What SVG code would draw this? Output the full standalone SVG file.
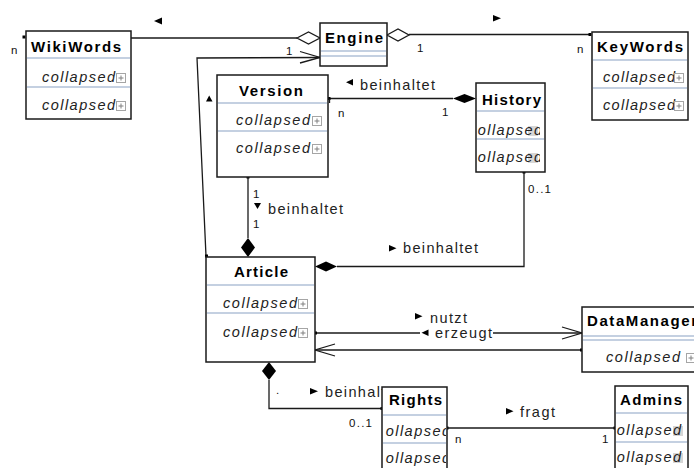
<svg xmlns="http://www.w3.org/2000/svg" xmlns:xlink="http://www.w3.org/1999/xlink" width="694" height="468" viewBox="0 0 694 468">
<style>
.box{fill:#fff;stroke:#1a1a1a;stroke-width:1.5}
.sep{stroke:#8aa2c4;stroke-width:1.2}
.title{font-family:"Liberation Sans",Arial,sans-serif;font-weight:bold;font-size:15px;fill:#000}
.attr{font-family:"Liberation Sans",Arial,sans-serif;font-style:italic;font-size:14.5px;fill:#222}
.lbl{font-family:"Liberation Sans",Arial,sans-serif;font-size:14.5px;fill:#222}
.mult{font-family:"Liberation Sans",Arial,sans-serif;font-size:11.5px;fill:#111}
.edge{fill:none;stroke:#1a1a1a;stroke-width:1.3}
.fill{fill:#000}
.hollow{fill:#fff;stroke:#1a1a1a;stroke-width:1.3}
.dot{fill:#000}
.grey{fill:#d6d6d6}
</style>
<defs>
<g id="plus"><rect x="0.5" y="0.5" width="9" height="9" fill="#fff" stroke="#a5a5a5" stroke-width="1"/><path d="M2.5 5H7.5M5 2.5V7.5" stroke="#808080" stroke-width="1"/></g>
<clipPath id="cHistory"><rect x="477" y="84" width="63" height="88"/></clipPath>
<clipPath id="cRights"><rect x="385" y="388" width="61" height="80"/></clipPath>
<clipPath id="cAdmins"><rect x="616" y="387" width="70" height="81"/></clipPath>
</defs>

<g id="connectors">
<!-- WikiWords - Engine -->
<line class="edge" x1="131" y1="38" x2="297" y2="38"/>
<polygon class="hollow" points="297,38 308.5,32 320,38 308.5,44"/>
<rect class="dot" x="22.5" y="35.5" width="3" height="3"/>
<polygon class="fill" points="162,17.5 162,24.5 154,21"/>
<text class="mult" x="11" y="54">n</text>
<text class="mult" x="286" y="55">1</text>
<!-- Engine - KeyWords -->
<polygon class="hollow" points="387,35 398,29 409,35 398,41"/>
<line class="edge" x1="409" y1="34.5" x2="591" y2="34.5"/>
<rect class="dot" x="588.5" y="33" width="3" height="3"/>
<polygon class="fill" points="493,15 493,21.5 501,18.2"/>
<text class="mult" x="417" y="52">1</text>
<text class="mult" x="577" y="53">n</text>
<!-- Article -> Engine -->
<polyline class="edge" points="206,256 197,58 320,57.5"/>
<polyline class="edge" points="300,51.5 320,57.5 300,63"/>
<rect class="dot" x="205" y="254.5" width="3" height="3"/>
<polygon class="fill" points="206,101.5 212.5,101.5 209.2,95.5"/>
<!-- Version - History -->
<line class="edge" x1="329" y1="98.5" x2="453" y2="98.5"/>
<polygon class="fill" points="453,98.5 464.5,94 476,98.5 464.5,103"/>
<rect class="dot" x="327.5" y="97" width="3" height="3"/>
<line class="edge" x1="329.5" y1="99" x2="329.5" y2="103"/>
<polygon class="fill" points="353,79 353,85.5 346,82.2"/>
<text class="lbl" x="360" y="90" textLength="75" lengthAdjust="spacing">beinhaltet</text>
<text class="mult" x="338" y="117">n</text>
<text class="mult" x="442" y="116">1</text>
<!-- Version - Article -->
<line class="edge" x1="248" y1="177" x2="248" y2="238"/>
<polygon class="fill" points="248,238 255,247.5 248,257 241,247.5"/>
<rect class="dot" x="246.5" y="175.5" width="3" height="3"/>
<text class="mult" x="253" y="198">1</text>
<polygon class="fill" points="254,203 261,203 257.5,209"/>
<text class="lbl" x="268" y="214" textLength="75" lengthAdjust="spacing">beinhaltet</text>
<text class="mult" x="253" y="228">1</text>
<!-- History - Article -->
<polyline class="edge" points="524,172 524,266.5 337,266.5"/>
<polygon class="fill" points="315,266.5 326,261.5 337,266.5 326,271.5"/>
<rect class="dot" x="522.5" y="170.5" width="3" height="3"/>
<text class="mult" x="528" y="193" textLength="23" lengthAdjust="spacing">0..1</text>
<polygon class="fill" points="389,245 389,251.5 396.5,248.2"/>
<text class="lbl" x="403" y="253" textLength="75" lengthAdjust="spacing">beinhaltet</text>
<!-- Article -> DataManager (nutzt) -->
<line class="edge" x1="315" y1="333" x2="582" y2="333"/>
<polyline class="edge" points="562,327 582,333 562,339"/>
<rect class="dot" x="314" y="331.5" width="3" height="3"/>
<polygon class="fill" points="415,313 415,319.5 422.5,316.2"/>
<text class="lbl" x="430" y="323" textLength="37" lengthAdjust="spacing">nutzt</text>
<!-- DataManager -> Article (erzeugt) -->
<line class="edge" x1="582" y1="350" x2="315" y2="350"/>
<polyline class="edge" points="335,344 315,350 335,356"/>
<rect class="dot" x="580" y="348.5" width="3" height="3"/>
<rect x="420" y="326" width="73" height="15" fill="#fff"/>
<polygon class="fill" points="428.5,329.5 428.5,336 421.5,332.7"/>
<text class="lbl" x="435" y="338" textLength="57" lengthAdjust="spacing">erzeugt</text>
<!-- Article - Rights -->
<polygon class="fill" points="269,362 276,371 269,380 262,371"/>
<polyline class="edge" points="269,380 269,408.5 382,408.5"/>
<rect class="dot" x="380.5" y="407" width="3" height="3"/>
<text class="mult" x="276" y="394">.</text>
<polygon class="fill" points="310,388 310,394.5 318,391.2"/>
<text class="lbl" x="325" y="397" textLength="75" lengthAdjust="spacing">beinhaltet</text>
<text class="mult" x="349" y="427" textLength="23" lengthAdjust="spacing">0..1</text>
<!-- Rights - Admins -->
<line class="edge" x1="447" y1="428" x2="615" y2="428"/>
<rect class="dot" x="445.5" y="426.5" width="3" height="3"/>
<rect class="dot" x="613.5" y="426.5" width="3" height="3"/>
<polygon class="fill" points="506,408 506,414.5 513.5,411.2"/>
<text class="lbl" x="520" y="417" textLength="35" lengthAdjust="spacing">fragt</text>
<text class="mult" x="455" y="443">n</text>
<text class="mult" x="602" y="443">1</text>
</g>

<g id="WikiWords">
<rect class="box" x="26" y="31" width="105" height="88"/>
<line class="sep" x1="27" y1="58" x2="130" y2="58"/>
<line class="sep" x1="27" y1="87" x2="130" y2="87"/>
<text class="title" x="31" y="52" textLength="90" lengthAdjust="spacing">WikiWords</text>
<text class="attr" x="42" y="82" textLength="73" lengthAdjust="spacing">collapsed</text>
<use xlink:href="#plus" x="116" y="73"/>
<text class="attr" x="42" y="110" textLength="73" lengthAdjust="spacing">collapsed</text>
<use xlink:href="#plus" x="116" y="101"/>
</g>

<g id="Engine">
<rect class="box" x="320" y="23" width="67" height="43"/>
<line class="sep" x1="321" y1="51" x2="386" y2="51"/>
<line class="sep" x1="321" y1="56" x2="386" y2="56"/>
<text class="title" x="325" y="43" textLength="58" lengthAdjust="spacing">Engine</text>
</g>

<g id="KeyWords">
<rect class="box" x="592" y="32" width="96" height="88"/>
<line class="sep" x1="593" y1="60" x2="687" y2="60"/>
<line class="sep" x1="593" y1="88" x2="687" y2="88"/>
<text class="title" x="597" y="52" textLength="86" lengthAdjust="spacing">KeyWords</text>
<text class="attr" x="603" y="82" textLength="72" lengthAdjust="spacing">collapsed</text>
<use xlink:href="#plus" x="674" y="73"/>
<text class="attr" x="603" y="110" textLength="72" lengthAdjust="spacing">collapsed</text>
<use xlink:href="#plus" x="674" y="101"/>
</g>

<g id="Version">
<rect class="box" x="217" y="75" width="111" height="102"/>
<line class="sep" x1="218" y1="103" x2="327" y2="103"/>
<line class="sep" x1="218" y1="131" x2="327" y2="131"/>
<text class="title" x="239" y="96" textLength="64" lengthAdjust="spacing">Version</text>
<text class="attr" x="236" y="125" textLength="74" lengthAdjust="spacing">collapsed</text>
<use xlink:href="#plus" x="312" y="116"/>
<text class="attr" x="236" y="153" textLength="74" lengthAdjust="spacing">collapsed</text>
<use xlink:href="#plus" x="312" y="144"/>
</g>

<g id="History">
<rect class="box" x="476" y="83" width="69" height="89"/>
<line class="sep" x1="477" y1="111" x2="544" y2="111"/>
<line class="sep" x1="477" y1="139" x2="544" y2="139"/>
<text class="title" x="482" y="105" textLength="59" lengthAdjust="spacing">History</text>
<g clip-path="url(#cHistory)">
<rect class="grey" x="528" y="126" width="10" height="10"/>
<text class="attr" x="469" y="135" textLength="73" lengthAdjust="spacing">collapsed</text>
<rect class="grey" x="528" y="153" width="10" height="10"/>
<text class="attr" x="469" y="162" textLength="73" lengthAdjust="spacing">collapsed</text>
</g>
</g>

<g id="Article">
<rect class="box" x="206" y="257" width="109" height="105"/>
<line class="sep" x1="207" y1="285" x2="314" y2="285"/>
<line class="sep" x1="207" y1="313" x2="314" y2="313"/>
<text class="title" x="234" y="277" textLength="54" lengthAdjust="spacing">Article</text>
<text class="attr" x="223" y="308" textLength="74" lengthAdjust="spacing">collapsed</text>
<use xlink:href="#plus" x="298" y="299"/>
<text class="attr" x="223" y="337" textLength="74" lengthAdjust="spacing">collapsed</text>
<use xlink:href="#plus" x="298" y="328"/>
</g>

<g id="DataManager">
<rect class="box" x="582" y="307" width="130" height="65"/>
<line class="sep" x1="583" y1="336" x2="694" y2="336"/>
<line class="sep" x1="583" y1="340" x2="694" y2="340"/>
<text class="title" x="587" y="326" textLength="110" lengthAdjust="spacing">DataManager</text>
<text class="attr" x="606" y="362" textLength="74" lengthAdjust="spacing">collapsed</text>
<use xlink:href="#plus" x="686" y="353"/>
</g>

<g id="Rights">
<rect class="box" x="382" y="387" width="65" height="100"/>
<line class="sep" x1="383" y1="415" x2="446" y2="415"/>
<line class="sep" x1="383" y1="443" x2="446" y2="443"/>
<text class="title" x="389" y="405" textLength="53" lengthAdjust="spacing">Rights</text>
<g clip-path="url(#cRights)">
<text class="attr" x="377" y="436" textLength="73" lengthAdjust="spacing">collapsed</text>
<text class="attr" x="377" y="463" textLength="73" lengthAdjust="spacing">collapsed</text>
</g>
</g>

<g id="Admins">
<rect class="box" x="615" y="386" width="73" height="100"/>
<line class="sep" x1="616" y1="413" x2="687" y2="413"/>
<line class="sep" x1="616" y1="442" x2="687" y2="442"/>
<text class="title" x="620" y="405" textLength="62" lengthAdjust="spacing">Admins</text>
<g clip-path="url(#cAdmins)">
<rect class="grey" x="673" y="426" width="10" height="10"/>
<text class="attr" x="608" y="435" textLength="73" lengthAdjust="spacing">collapsed</text>
<rect class="grey" x="673" y="453" width="10" height="10"/>
<text class="attr" x="608" y="462" textLength="73" lengthAdjust="spacing">collapsed</text>
</g>
</g>
</svg>
